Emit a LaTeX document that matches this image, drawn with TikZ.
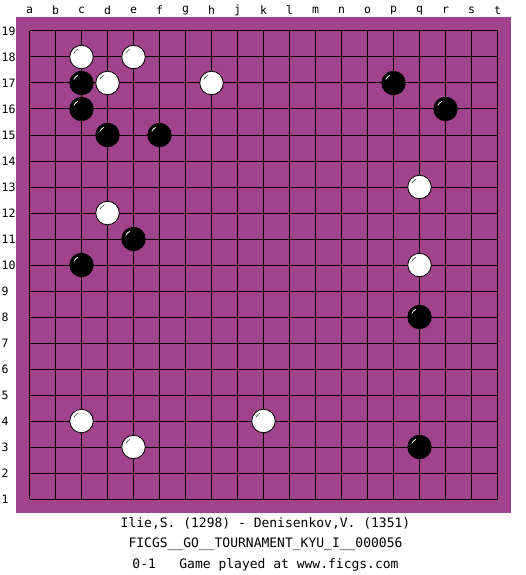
\documentclass[tikz,border=0pt]{standalone}
\usepackage{fontspec}
\setmonofont{DejaVu Sans Mono}
\definecolor{board}{RGB}{160,66,140}
\begin{document}
\begin{tikzpicture}[x=1pt,y=-1pt,
  gridline/.style={black,line width=1pt},
  bstone/.style={circle,fill=black,draw=black,line width=0.8pt,minimum size=23.5pt,inner sep=0pt},
  wstone/.style={circle,fill=white,draw=black,line width=0.8pt,minimum size=23.5pt,inner sep=0pt},
  lbl/.style={font=\fontsize{11.5}{13}\selectfont\ttfamily,inner sep=0pt},
  info/.style={font=\fontsize{13}{15}\selectfont\ttfamily,inner sep=0pt}]
\fill[white] (0,0) rectangle (525,575);
\useasboundingbox (0,0) rectangle (525,575);
\fill[board] (16,17.5) rectangle (511,512.5);
\foreach \i in {0,...,18}{
  \draw[gridline] (29.5+26*\i,31) -- (29.5+26*\i,499);
  \draw[gridline] (29.5,31+26*\i) -- (497.5,31+26*\i);
}
\foreach \c [count=\k from 0] in {a,b,c,d,e,f,g,h,j,k,l,m,n,o,p,q,r,s,t}
  \node[lbl] (col\c) at (29.5+26*\k,10.5) {\c};
\foreach \r in {1,...,19}
  \node[lbl,anchor=west] (row\r) at (1.5,31+26*19-26*\r) {\r};
% black stones
\foreach \cx/\ry [count=\n] in {2/17,14/17,2/16,16/16,3/15,5/15,4/11,2/10,15/8,15/3}{
  \node[bstone] (b\n) at (29.5+26*\cx,31+26*19-26*\ry) {};
  \draw[white,line width=0.8pt] (b\n.center) ++(205:8.5) arc[start angle=205,end angle=245,radius=8.5];
}
% white stones
\foreach \cx/\ry [count=\n] in {2/18,4/18,3/17,7/17,15/13,3/12,15/10,2/4,9/4,4/3}{
  \node[wstone] (w\n) at (29.5+26*\cx,31+26*19-26*\ry) {};
  \draw[black!70,line width=0.6pt] (w\n.center) ++(205:8.5) arc[start angle=205,end angle=245,radius=8.5];
}
\node[info] (t1) at (265.5,523.5) {Ilie,S. (1298) - Denisenkov,V. (1351)};
\node[info] (t2) at (265.5,544) {FICGS\_\_GO\_\_TOURNAMENT\_KYU\_I\_\_000056};
\node[info] (t3) at (265.5,565) {0-1\ \ \ Game played at www.ficgs.com};
\end{tikzpicture}
\end{document}
